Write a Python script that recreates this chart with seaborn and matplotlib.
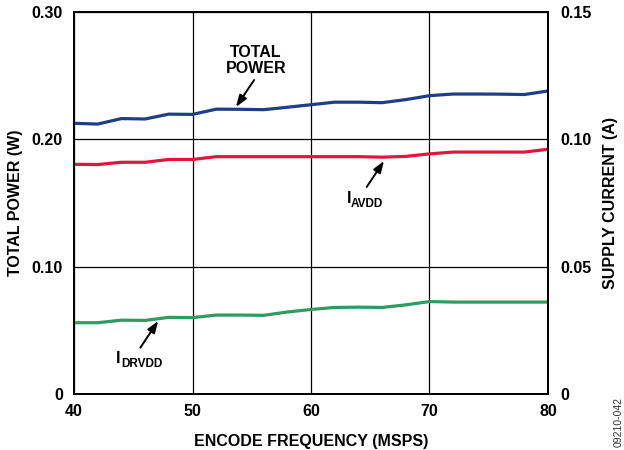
import matplotlib
matplotlib.use("Agg")
import matplotlib.pyplot as plt
import seaborn as sns

# Data
freq = [40, 42, 44, 46, 48, 50, 52, 54, 56, 58, 60, 62, 64, 66, 68, 70, 72, 74, 76, 78, 80]
total_power = [0.2126, 0.2120, 0.2163, 0.2160, 0.2198, 0.2196, 0.2237, 0.2236, 0.2233, 0.2252, 0.2272,
               0.2292, 0.2292, 0.2288, 0.2312, 0.2343, 0.2356, 0.2356, 0.2355, 0.2352, 0.2380]
i_avdd = [0.0902, 0.0901, 0.0910, 0.0910, 0.0921, 0.0921, 0.0932, 0.0932, 0.0932, 0.0932, 0.0932,
          0.0932, 0.0932, 0.0930, 0.0933, 0.0943, 0.0950, 0.0950, 0.0950, 0.0950, 0.0961]
i_drvdd = [0.0280, 0.0280, 0.0290, 0.0289, 0.0301, 0.0300, 0.0310, 0.0310, 0.0309, 0.0322, 0.0332,
           0.0340, 0.0341, 0.0340, 0.0350, 0.0363, 0.0361, 0.0361, 0.0361, 0.0361, 0.0361]

left_ticks = [0, 0.10, 0.20, 0.30]
left_labels = ["0", "0.10", "0.20", "0.30"]
right_ticks = [0, 0.05, 0.10, 0.15]
right_labels = ["0", "0.05", "0.10", "0.15"]
x_ticks = [40, 50, 60, 70, 80]

sns.set_style("white")
plt.rcParams["font.family"] = ["Liberation Sans", "DejaVu Sans"]
plt.rcParams["text.color"] = "black"
plt.rcParams["xtick.color"] = "black"
plt.rcParams["ytick.color"] = "black"
plt.rcParams["axes.labelcolor"] = "black"

FS = 11.5

fig = plt.figure(figsize=(6.24, 4.5), dpi=100)
ax = fig.add_axes([0.1186, 0.1244, 0.7596, 0.8489])
ax2 = ax.twinx()

sns.lineplot(x=freq, y=total_power, ax=ax, color="#1c3f86", lw=2.3)
sns.lineplot(x=freq, y=i_avdd, ax=ax2, color="#e2153f", lw=2.3)
sns.lineplot(x=freq, y=i_drvdd, ax=ax2, color="#2f9a62", lw=2.3)

ax.set_xlim(40, 80)
ax.set_ylim(0, 0.30)
ax2.set_ylim(0, 0.15)

ax.set_xticks(x_ticks)
ax.set_xticklabels([str(t) for t in x_ticks], fontsize=FS, fontweight="bold")
ax.set_yticks(left_ticks)
ax.set_yticklabels(left_labels, fontsize=FS, fontweight="bold")
ax2.set_yticks(right_ticks)
ax2.set_yticklabels(right_labels, fontsize=FS, fontweight="bold")

ax.tick_params(axis="x", length=0, pad=7)
ax.tick_params(axis="y", length=0, pad=8)
ax2.tick_params(axis="y", length=0, pad=9)

ax.grid(True, color="black", lw=0.9)
for sp in list(ax.spines.values()) + list(ax2.spines.values()):
    sp.set_color("black")
    sp.set_linewidth(1.4)

ax.set_xlabel("ENCODE FREQUENCY (MSPS)", fontsize=FS, fontweight="bold", labelpad=11)
ax.set_ylabel("TOTAL POWER (W)", fontsize=FS, fontweight="bold", labelpad=6)
ax2.set_ylabel("SUPPLY CURRENT (A)", fontsize=FS, fontweight="bold", labelpad=8)

arrow = dict(arrowstyle="-|>,head_length=0.7,head_width=0.25", color="black", lw=1.4, shrinkA=0, shrinkB=0)

# TOTAL POWER label
ax.annotate("", xy=(53.67, 0.2254), xytext=(55.2, 0.2466), arrowprops=arrow)
ax.text(55.36, 0.2647, "TOTAL", ha="center", va="baseline", fontsize=FS, fontweight="bold")
ax.text(55.36, 0.2521, "POWER", ha="center", va="baseline", fontsize=FS, fontweight="bold")

# I_AVDD label
ax2.annotate("", xy=(66.16, 0.0915), xytext=(64.7, 0.0813), arrowprops=arrow)
ax2.text(63.04, 0.0750, "I", ha="left", va="baseline", fontsize=FS, fontweight="bold")
ax2.text(63.38, 0.0734, "AVDD", ha="left", va="baseline", fontsize=8.5, fontweight="bold")

# I_DRVDD label
ax2.annotate("", xy=(47.1, 0.0287), xytext=(45.6, 0.0182), arrowprops=arrow)
ax2.text(43.54, 0.0122, "I", ha="left", va="baseline", fontsize=FS, fontweight="bold")
ax2.text(43.97, 0.0106, "DRVDD", ha="left", va="baseline", fontsize=8.5, fontweight="bold")

fig.text(0.992, 0.062, "09210-042", rotation=90, fontsize=7.5, color="#333333", ha="center", va="center")

fig.savefig("out.png", dpi=100)
